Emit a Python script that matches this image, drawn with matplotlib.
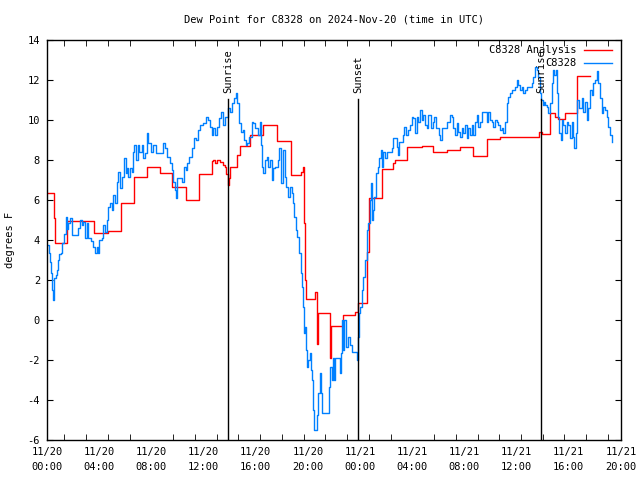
import numpy as np
import matplotlib
matplotlib.use('Agg')
import matplotlib.pyplot as plt

# times are minutes after 2024-11-20 00:00 UTC, values are dew point in degrees F
obs_min = [0, 9, 14, 18, 23, 28, 32, 41, 46, 51,
           55, 64, 69, 78, 87, 92, 97, 106, 115, 129,
           143, 152, 161, 166, 175, 184, 189, 202, 212, 221,
           230, 235, 239, 253, 258, 267, 276, 281, 290, 299,
           304, 313, 322, 327, 336, 345, 354, 363, 368, 373,
           382, 391, 396, 400, 409, 419, 423, 437, 442, 451,
           460, 465, 478, 488, 501, 534, 543, 552, 566, 575,
           580, 589, 593, 598, 621, 630, 639, 644, 653, 667,
           676, 685, 695, 704, 718, 731, 741, 750, 759, 764,
           773, 782, 791, 800, 810, 819, 833, 842, 851, 860,
           869, 874, 883, 892, 902, 906, 915, 920, 929, 943,
           948, 957, 971, 980, 984, 989, 994, 1003, 1012, 1017,
           1026, 1035, 1039, 1049, 1063, 1067, 1077, 1086, 1095, 1099,
           1108, 1118, 1127, 1132, 1136, 1145, 1150, 1159, 1168, 1173,
           1178, 1182, 1187, 1191, 1196, 1201, 1210, 1214, 1219, 1224,
           1228, 1242, 1247, 1256, 1260, 1265, 1297, 1302, 1311, 1316,
           1320, 1325, 1348, 1352, 1357, 1362, 1366, 1375, 1385, 1394,
           1403, 1426, 1431, 1435, 1440, 1449, 1454, 1463, 1472, 1477,
           1486, 1490, 1495, 1500, 1504, 1513, 1523, 1527, 1536, 1541,
           1546, 1555, 1564, 1587, 1592, 1610, 1615, 1619, 1638, 1642,
           1651, 1660, 1670, 1679, 1684, 1693, 1702, 1707, 1716, 1725,
           1730, 1739, 1748, 1753, 1766, 1776, 1780, 1789, 1803, 1808,
           1817, 1840, 1854, 1863, 1868, 1877, 1886, 1891, 1900, 1909,
           1914, 1923, 1932, 1937, 1946, 1955, 1960, 1969, 1978, 1983,
           1992, 2001, 2015, 2024, 2029, 2038, 2047, 2052, 2061, 2070,
           2075, 2084, 2093, 2098, 2107, 2116, 2121, 2130, 2139, 2153,
           2162, 2167, 2176, 2185, 2190, 2199, 2208, 2231, 2236, 2245,
           2254, 2259, 2268, 2272, 2282, 2286, 2291, 2300, 2305, 2314,
           2323, 2328, 2332, 2341, 2346, 2351, 2355, 2364, 2369, 2374,
           2383, 2392, 2397, 2406, 2415, 2420, 2424, 2433, 2438, 2447,
           2461, 2466, 2475, 2484, 2489, 2498, 2507, 2512, 2521, 2530,
           2535, 2544, 2553, 2558, 2567, 2576, 2581, 2590, 2599]
obs_dwpt = [3.75, 3.35, 2.9, 2.35, 1.5, 1.0, 2.1, 2.25, 2.5, 3.0,
            3.3, 3.35, 3.85, 4.3, 5.15, 4.55, 4.85, 5.1, 4.25, 4.25,
            4.6, 5.0, 4.75, 4.9, 4.1, 4.85, 4.1, 3.95, 3.65, 3.35,
            3.65, 3.35, 4.0, 4.1, 4.75, 4.4, 5.0, 5.65, 5.85, 5.5,
            6.25, 5.85, 6.9, 7.4, 6.6, 7.15, 8.1, 7.35, 7.6, 7.15,
            7.6, 7.4, 8.4, 8.75, 8.0, 8.75, 8.4, 8.75, 8.1, 8.35,
            9.35, 8.85, 8.4, 8.75, 8.35, 8.85, 8.6, 8.15, 7.85, 7.5,
            6.9, 6.5, 6.1, 7.1, 6.9, 7.65, 7.5, 7.85, 8.15, 8.6,
            9.1, 9.0, 9.5, 9.75, 9.85, 10.15, 10.0, 9.65, 9.25, 9.6,
            9.25, 9.65, 10.1, 10.4, 9.75, 10.15, 10.6, 10.4, 10.85, 11.1,
            11.35, 10.85, 9.85, 9.4, 9.5, 9.0, 8.75, 8.85, 9.15, 9.9,
            9.85, 9.6, 9.25, 9.9, 8.75, 7.65, 7.35, 8.0, 8.15, 7.65,
            8.0, 7.0, 7.6, 7.65, 8.0, 8.6, 6.85, 8.5, 7.15, 6.65,
            6.15, 6.65, 6.35, 5.85, 5.15, 4.5, 4.15, 3.35, 2.35, 1.65,
            0.65, -0.65, -0.35, -1.5, -2.35, -2.0, -1.65, -2.5, -3.0, -4.5,
            -5.5, -4.75, -3.65, -2.65, -3.65, -4.65, -3.35, -2.35, -3.0, -1.9,
            -3.0, -1.9, -2.65, -1.65, 0.0, -1.5, 0.0, -1.35, -0.85, -1.25,
            -1.6, -2.0, -0.85, 0.35, 0.65, 1.5, 2.15, 3.0, 4.5, 4.85,
            6.0, 6.85, 5.0, 5.5, 6.15, 7.35, 7.65, 8.1, 8.5, 7.65,
            8.4, 8.1, 8.4, 8.6, 9.1, 8.65, 8.25, 8.9, 9.25, 9.65,
            9.25, 9.5, 9.75, 10.15, 10.1, 9.35, 10.15, 9.9, 10.5, 10.0,
            10.25, 9.75, 9.6, 10.25, 9.6, 9.9, 10.15, 9.6, 9.25, 9.0,
            9.6, 9.9, 10.25, 10.15, 9.6, 9.25, 9.85, 9.4, 9.15, 9.6,
            9.35, 9.75, 9.1, 9.6, 9.25, 9.75, 9.25, 9.9, 10.25, 9.65,
            9.9, 10.4, 10.4, 9.9, 10.4, 10.0, 9.9, 9.65, 10.0, 9.9,
            9.75, 9.5, 9.6, 9.35, 9.9, 10.85, 11.15, 11.35, 11.5, 11.65,
            12.0, 11.75, 11.5, 11.65, 11.35, 11.5, 11.65, 11.85, 12.15, 12.65,
            12.5, 12.15, 11.35, 11.0, 10.75, 10.9, 10.75, 10.65, 10.35, 10.85,
            11.85, 12.5, 12.25, 12.5, 11.35, 10.15, 9.35, 9.0, 10.0, 9.75,
            9.35, 9.9, 9.75, 9.1, 9.9, 9.15, 8.6, 9.35, 11.0, 10.6,
            11.1, 10.4, 10.9, 10.0, 10.6, 11.5, 11.25, 11.85, 12.0, 12.45,
            11.85, 11.1, 10.35, 10.65, 10.5, 10.15, 9.65, 9.25, 8.9]

ana_min = [0, 30, 35, 90, 215, 280, 340, 400, 460, 520,
           575, 640, 700, 760, 764, 773, 782, 796, 810, 819,
           823, 833, 837, 842, 874, 888, 934, 994, 1058, 1122,
           1168, 1178, 1182, 1187, 1191, 1233, 1242, 1247, 1302, 1306,
           1362, 1417, 1431, 1472, 1481, 1541, 1592, 1601, 1656, 1725,
           1776, 1840, 1900, 1960, 2024, 2084, 2263, 2277, 2314, 2337,
           2351, 2383, 2438, 2498]
ana_dwpt = [6.35, 5.1, 3.85, 4.95, 4.35, 4.45, 5.85, 7.15, 7.65, 7.35,
            6.65, 6.0, 7.3, 7.95, 8.0, 7.85, 8.0, 7.9, 7.75, 7.65,
            7.3, 6.75, 7.1, 7.65, 8.25, 8.7, 9.25, 9.75, 8.95, 7.25,
            7.4, 7.65, 4.85, 2.0, 1.05, 1.4, -1.2, 0.35, -1.9, -0.3,
            0.25, 0.4, 0.85, 3.4, 6.1, 7.55, 7.85, 8.0, 8.65, 8.7,
            8.4, 8.5, 8.65, 8.2, 9.05, 9.15, 9.4, 9.3, 10.35, 10.15,
            10.05, 10.35, 12.2, 12.2]

sun_names = ['Sunrise', 'Sunset', 'Sunrise']
sun_min = [833, 1431, 2272]

xlab_hours = [0, 4, 8, 12, 16, 20, 24, 28, 32, 36, 40, 44]
xlab_text = ['11/20\n00:00', '11/20\n04:00', '11/20\n08:00', '11/20\n12:00',
             '11/20\n16:00', '11/20\n20:00', '11/21\n00:00', '11/21\n04:00',
             '11/21\n08:00', '11/21\n12:00', '11/21\n16:00', '11/21\n20:00']
ytick_vals = [-6, -4, -2, 0, 2, 4, 6, 8, 10, 12, 14]

plt.rcParams['font.family'] = 'DejaVu Sans Mono'
plt.rcParams['font.size'] = 7.5

fig = plt.figure(figsize=(6.4, 4.8), dpi=100)
ax = fig.add_axes([47/640, 40/480, 574/640, 400/480])

ax.plot(np.array(ana_min)/60, ana_dwpt, color='#ff0000', lw=1.0, drawstyle='steps-post')
ax.plot(np.array(obs_min)/60, obs_dwpt, color='#0080ff', lw=1.0, drawstyle='steps-post')

# sunrise / sunset markers
for name, m in zip(sun_names, sun_min):
    ax.plot([m/60, m/60], [-6, 11.05], color='black', lw=1.0)
    ax.text(m/60, 11.35, name, rotation=90, ha='center', va='bottom')

ax.set_xlim(0, 44)
ax.set_ylim(-6, 14)
ax.set_yticks(ytick_vals)
ax.set_yticklabels([str(v) for v in ytick_vals])
ax.set_xticks(xlab_hours)
ax.set_xticklabels(xlab_text, linespacing=1.6)
ax.set_xticks([(80 + 100*k)/60 for k in range(26)], minor=True)
ax.tick_params(axis='x', which='major', length=0, pad=5)
ax.tick_params(axis='x', which='minor', direction='in', length=4, top=True, bottom=True)
ax.tick_params(axis='y', direction='in', length=4, left=True, right=True, pad=5)
for s in ax.spines.values():
    s.set_linewidth(1.0)

# legend drawn by hand, text right-justified like gnuplot
ax.text(0.923, 0.975, 'C8328 Analysis', transform=ax.transAxes, ha='right', va='center')
ax.plot([0.935, 0.985], [0.975, 0.975], transform=ax.transAxes, color='#ff0000', lw=1.0)
ax.text(0.923, 0.9425, 'C8328', transform=ax.transAxes, ha='right', va='center')
ax.plot([0.935, 0.985], [0.9425, 0.9425], transform=ax.transAxes, color='#0080ff', lw=1.0)

fig.text(334/640, 1 - 20/480, 'Dew Point for C8328 on 2024-Nov-20 (time in UTC)',
         ha='center', va='center')
fig.text(10/640, 0.5, 'degrees F', rotation=90, ha='center', va='center')

plt.savefig('out.png', dpi=100)
